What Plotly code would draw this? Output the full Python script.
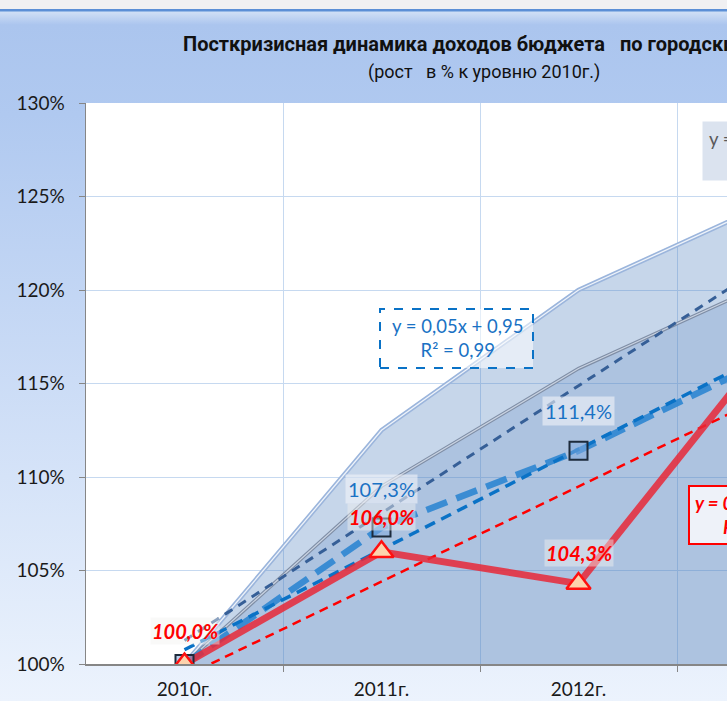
import base64
import numpy as np
import plotly.graph_objects as go

# ---------------- data ----------------
categories = ["2010г.", "2011г.", "2012г.", "2013г."]
area_upper = [100.0, 112.5, 120.0, 124.8]      # light outer area
area_middle = [100.0, 109.5, 115.8, 120.6]     # darker inner area
blue_series = [100.0, 107.3, 111.4, 116.5]     # squares, thick dashed
red_series = [100.0, 106.0, 104.3, 117.5]      # triangles, red solid
blue_labels = ["", "107,3%", "111,4%", ""]
red_labels = ["100,0%", "106,0%", "104,3%", ""]
y_ticks = [100, 105, 110, 115, 120, 125, 130]
y_tick_text = ["100%", "105%", "110%", "115%", "120%", "125%", "130%"]

x = list(range(len(categories)))
xf = np.arange(1, len(categories) + 1)


def trend(vals):
    k, b = np.polyfit(xf, vals, 1)
    return list(k * xf + b)


trend_middle = trend(area_middle)
trend_blue = trend(blue_series)
trend_red = trend(red_series)

FONT = "Lato, 'Open Sans', Roboto, sans-serif"
TFONT = "Roboto, 'Open Sans', sans-serif"

fig = go.Figure()

# areas
fig.add_trace(go.Scatter(x=x, y=area_upper, mode="lines", fill="tozeroy",
                         fillcolor="rgba(79,129,189,0.32)",
                         line=dict(color="#9bb5dc", width=4.5), hoverinfo="skip"))
fig.add_trace(go.Scatter(x=x, y=area_upper, mode="lines",
                         line=dict(color="#eef3fa", width=1.3), hoverinfo="skip"))
fig.add_trace(go.Scatter(x=x, y=area_middle, mode="lines", fill="tozeroy",
                         fillcolor="rgba(79,129,189,0.21)",
                         line=dict(color="#7f8ea6", width=3.5), hoverinfo="skip"))
fig.add_trace(go.Scatter(x=x, y=area_middle, mode="lines",
                         line=dict(color="#c9d3e2", width=1.2), hoverinfo="skip"))

# trend of middle area (navy dashed)
fig.add_trace(go.Scatter(x=x, y=trend_middle, mode="lines",
                         line=dict(color="#365f97", width=3, dash="9px,7px"), hoverinfo="skip"))
# blue data line thick dashed
fig.add_trace(go.Scatter(x=x, y=blue_series, mode="lines",
                         line=dict(color="rgba(46,134,210,0.9)", width=6.5, dash="22px,10px"), hoverinfo="skip"))
# blue trend
fig.add_trace(go.Scatter(x=x, y=trend_blue, mode="lines",
                         line=dict(color="#0a72c6", width=3.5, dash="11px,7px"), hoverinfo="skip"))
# red trend
fig.add_trace(go.Scatter(x=x, y=trend_red, mode="lines",
                         line=dict(color="#ff0000", width=2.5, dash="9px,6px"), hoverinfo="skip"))
# red data line
fig.add_trace(go.Scatter(x=x, y=red_series, mode="lines",
                         line=dict(color="rgba(232,40,55,0.85)", width=7), hoverinfo="skip"))
# markers
fig.add_trace(go.Scatter(x=x, y=blue_series, mode="markers",
                         marker=dict(symbol="square", size=18, color="rgba(130,170,222,0.55)",
                                     line=dict(color="#1d2b3c", width=2)), hoverinfo="skip"))
fig.add_trace(go.Scatter(x=x, y=red_series, mode="markers",
                         marker=dict(symbol="triangle-up", size=21, color="#fdd3ad",
                                     line=dict(color="#ff1010", width=2.5)), hoverinfo="skip"))

annotations = []
# data labels
for i, (v, t) in enumerate(zip(blue_series, blue_labels)):
    if t:
        annotations.append(dict(x=i, y=v, xref="x", yref="y", text=t, showarrow=False,
                                yshift=38 if i == 1 else 40,
                                font=dict(family=FONT, size=20, color="#1a72c4"),
                                bgcolor="rgba(242,244,248,0.6)", borderpad=2))
for i, (v, t) in enumerate(zip(red_series, red_labels)):
    if t:
        annotations.append(dict(x=i, y=v, xref="x", yref="y", text="<b><i>" + t + "</i></b>",
                                showarrow=False, yshift=[33, 35, 31][i],
                                font=dict(family=FONT, size=20, color="#ff0000"),
                                bgcolor="rgba(242,242,240,0.45)", borderpad=1))

W, H = 727, 701
L, R, T, B = 86, 0, 103, 37
PW, PH = W - L - R, H - T - B


def px(xp):
    return (xp - L) / PW


def py(yp):
    return (H - B - yp) / PH


# title
annotations.append(dict(x=px(181), y=py(44), xref="paper", yref="paper", xanchor="left", yanchor="middle",
                        text="<b>Посткризисная динамика доходов бюджета   по городским округам</b>",
                        showarrow=False, font=dict(family=TFONT, size=20, color="#111111")))
annotations.append(dict(x=px(484), y=py(72), xref="paper", yref="paper", xanchor="center", yanchor="middle",
                        text="(рост   в % к уровню 2010г.)",
                        showarrow=False, font=dict(family=TFONT, size=18, color="#111111")))

# equation boxes
annotations.append(dict(x=px(457), y=py(338), xref="paper", yref="paper", xanchor="center", yanchor="middle",
                        text="y = 0,05x + 0,95<br>R² = 0,99", showarrow=False, align="center",
                        font=dict(family=FONT, size=18.5, color="#1a72c4")))
annotations.append(dict(x=px(702), y=py(121), xref="paper", yref="paper", xanchor="left", yanchor="top",
                        text="y = 0,07x + 0,94<br>R² = 0,98", showarrow=False, align="center",
                        font=dict(family=FONT, size=18.5, color="#595959"),
                        bgcolor="#dbe3ef", borderpad=6))
annotations.append(dict(x=px(688), y=py(485), xref="paper", yref="paper", xanchor="left", yanchor="top",
                        text="<b><i>y = 0,05x + 0,94<br>R² = 0,77</i></b>", showarrow=False, align="center",
                        font=dict(family=FONT, size=18.5, color="#ff0000"),
                        bgcolor="#eef2f9", bordercolor="#ff0000", borderwidth=2, borderpad=5))

shapes = [dict(type="rect", xref="paper", yref="paper", x0=px(380), x1=px(533), y0=py(368), y1=py(309),
               line=dict(color="#0a72c6", width=2, dash="dash"), fillcolor="rgba(255,255,255,0.55)",
               layer="above")]

# background gradient (chart area) + white plot area
svg = (
    f'<svg xmlns="http://www.w3.org/2000/svg" width="{W}" height="{H}">'
    '<defs><linearGradient id="g" x1="0" y1="0" x2="0" y2="1">'
    '<stop offset="0" stop-color="#d2e1f6"/>'
    '<stop offset="0.02" stop-color="#abc5ee"/>'
    '<stop offset="0.15" stop-color="#b0c9f0"/>'
    '<stop offset="1" stop-color="#ecf3fd"/>'
    '</linearGradient></defs>'
    f'<rect width="{W}" height="{H}" fill="#f0f0f2"/>'
    f'<rect y="11" width="{W}" height="{H - 11}" fill="url(#g)"/>'
    f'<rect y="9" width="{W}" height="2.5" fill="#5b8fd6"/>'
    f'<rect x="{L}" y="{T}" width="{PW}" height="{PH}" fill="#ffffff"/>'
    '</svg>'
)
src = "data:image/svg+xml;base64," + base64.b64encode(svg.encode("utf-8")).decode("ascii")

fig.update_layout(
    width=W, height=H,
    margin=dict(l=L, r=R, t=T, b=B, pad=0),
    paper_bgcolor="#c5d8f3", plot_bgcolor="white",
    showlegend=False,
    hovermode=False,
    annotations=annotations,
    shapes=shapes,
    images=[dict(source=src, xref="paper", yref="paper", x=px(0), y=py(0),
                 sizex=W / PW, sizey=H / PH, xanchor="left", yanchor="top",
                 sizing="stretch", layer="below")],
    xaxis=dict(range=[-0.5, -0.5 + PW / 197.0], tickmode="array", tickvals=x, ticktext=categories,
               showgrid=False, zeroline=False, showline=True, linecolor="#868686", linewidth=1.5,
               ticks="", ticklabelstandoff=8, tickfont=dict(family=FONT, size=19, color="#1a1a1a"),
               minor=dict(tickmode="array", tickvals=[0.5, 1.5, 2.5], ticks="outside", ticklen=6,
                          tickcolor="#868686", showgrid=True, gridcolor="#c6d9f0", gridwidth=1)),
    yaxis=dict(range=[100, 130], tickmode="array", tickvals=y_ticks, ticktext=y_tick_text,
               showgrid=True, gridcolor="#c6d9f0", gridwidth=1, zeroline=False,
               showline=True, linecolor="#868686", linewidth=1.5,
               ticks="outside", ticklen=6, tickcolor="#868686", ticklabelstandoff=10,
               tickfont=dict(family=FONT, size=19, color="#1a1a1a")),
)

fig.write_html("out.html", config={"displayModeBar": False, "staticPlot": True},
               post_script="document.body.style.margin='0';document.body.style.overflow='hidden';")
